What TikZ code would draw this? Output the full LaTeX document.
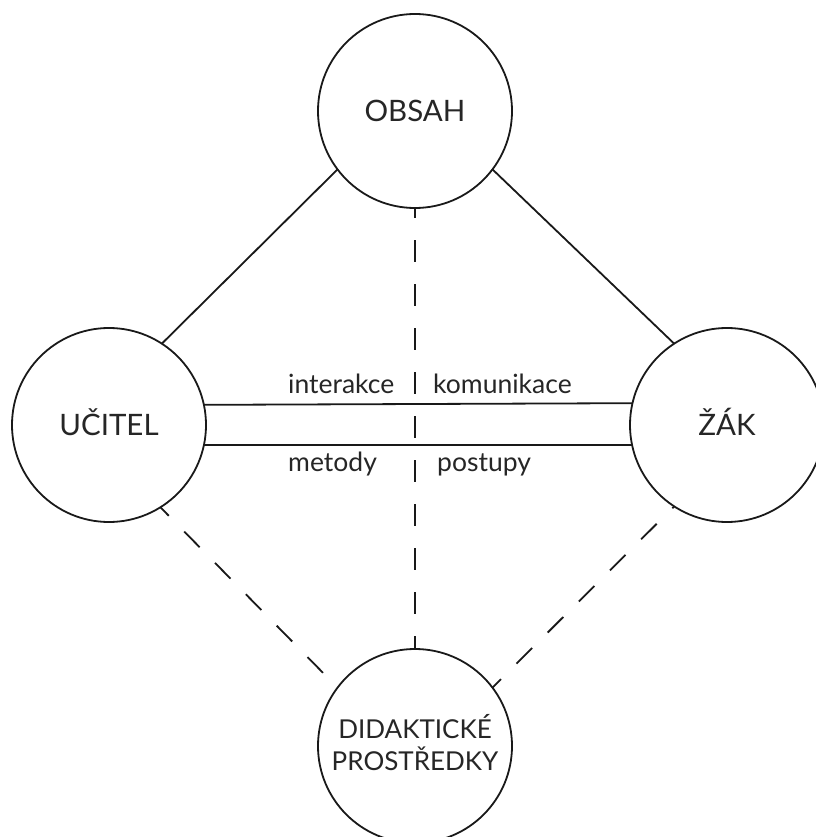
\documentclass[tikz,border=0pt]{standalone}
\usepackage{fontspec}
\setmainfont{Lato}
\begin{document}
\begin{tikzpicture}[x=1pt,y=-1pt,
  circ/.style={draw=black!90,line width=1.8pt,circle,minimum size=194pt,inner sep=0pt,outer sep=0pt},
  big/.style={font=\fontsize{29.5}{36}\selectfont,text=black!85,inner sep=0pt,text height=21.2pt,text depth=0pt},
  mid/.style={font=\fontsize{26}{32}\selectfont,text=black!85,inner sep=0pt,anchor=base},
  small/.style={font=\fontsize{26.5}{30}\selectfont,text=black!85,inner sep=0pt,anchor=base west},
  con/.style={draw=black!90,line width=1.8pt},
  dsh/.style={con,dash pattern=on 22pt off 22pt}
]
\useasboundingbox (0,0) rectangle (815,837);
\fill[white] (0,0) rectangle (815,837);
\node[circ] (o) at (415,111) {};
\node[circ] (u) at (109,425) {};
\node[circ] (z) at (727,425) {};
\node[circ] (d) at (415,746) {};
\node[big] (ot) at (o) {OBSAH};
\node[big] (ut) at (u) {UČITEL};
\node[big] (zt) at (z) {ŽÁK};
\node[mid] (d1) at (415,738) {DIDAKTICKÉ};
\node[mid] (d2) at (415,770) {PROSTŘEDKY};
\draw[con] (u.57) -- (o.217);
\draw[con] (o.323) -- (z.123);
\draw[con] (u.12.5) -- (z.167.5);
\draw[con] (u.-12.5) -- (z.192.5);
\draw[dsh,dash phase=12pt] (o.south) -- (d.north);
\draw[dsh,dash phase=10pt] (u.-58) -- (d.143);
\draw[dsh,dash phase=10pt] (d.37) -- (z.237);
\node[small] (l1) at (288,393) {interakce};
\node[small] (l2) at (433,393) {komunikace};
\node[small] (l3) at (288,471) {metody};
\node[small] (l4) at (437,471) {postupy};
\end{tikzpicture}
\end{document}
